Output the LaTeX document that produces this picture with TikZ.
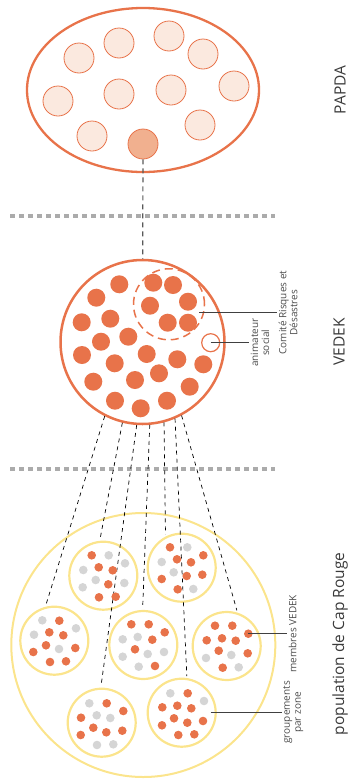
\documentclass[tikz,border=0pt]{standalone}
\usepackage{fontspec}
\setmainfont{Open Sans}
\usepackage{tikz}
\usepackage{xcolor}
\usetikzlibrary{calc}

\definecolor{orangeV}{HTML}{E8734A}
\definecolor{pecheP}{HTML}{FBE9DF}
\definecolor{pecheF}{HTML}{F1B08F}
\definecolor{jauneZ}{HTML}{FBE48C}
\definecolor{grisP}{HTML}{D5D5D5}
\definecolor{grisS}{HTML}{ABABAB}
\definecolor{texte}{HTML}{3A3A3A}

\begin{document}
\begin{tikzpicture}[x=1pt, y=-1pt,
  separateur/.style={draw=grisS, line width=4pt, dash pattern=on 5pt off 4pt},
  liaison/.style={draw=black!65, line width=1.2pt, dash pattern=on 5pt off 4pt},
  pointille/.style={draw=black, line width=0.7pt, dash pattern=on 4pt off 4pt},
  zone/.style={circle, draw=jauneZ, line width=2.2pt, minimum size=68pt, inner sep=0pt, outer sep=3pt},
  renvoi/.style={draw=black!75, line width=0.7pt},
  petit/.style={text=black!70, font=\fontsize{10}{11}\selectfont, align=center, inner sep=1.5pt, rotate=90, anchor=north},
  grand/.style={text=texte, font=\fontsize{15.5}{18}\selectfont, rotate=90}]
\useasboundingbox (0,0) rectangle (350,782);

% PAPDA
\draw[orangeV, line width=2.3pt] (143,90) ellipse (116 and 82);
\foreach \x/\y in {79/58, 119/43, 169/36, 203/54, 234/86, 171/90,
                   119/94, 58/101, 92/136, 200/125}
  \draw[orangeV, fill=pecheP, line width=0.8pt] (\x,\y) circle (15);
\node[circle, draw=orangeV, fill=pecheF, line width=0.8pt, minimum size=30pt, inner sep=0pt] (delegue) at (143,144) {};
\node[grand] (lpapda) at (340,90) {PAPDA};

\draw[separateur] (10,216) -- (275,216);

% VEDEK
\node[circle, draw=orangeV, line width=2.5pt, minimum size=164pt, inner sep=0pt] (vedek) at (142.5,342) {};
\draw[liaison] (delegue) -- (vedek);
\foreach \x/\y in {119.3/284.3, 153.3/282.7, 173/285, 96.3/297.7, 150/305.7,
                   188/301.7, 110.3/318.7, 81.7/322.3, 167.7/322.7, 188/322.7,
                   128.3/336.7, 101/341.7, 82/355, 146.7/354, 114.7/363.3,
                   177.3/359.3, 203.3/364.3, 159/373.3, 135/380, 93.3/381.7,
                   189.7/386.7, 115/400.7, 140.7/408.3, 167/400.7}
  \fill[orangeV] (\x,\y) circle (9);
\node[circle, draw=orangeV, dash pattern=on 8pt off 5pt, line width=1.5pt, minimum size=71pt, inner sep=0pt] (comite) at (169,304.3) {};
\node[circle, draw=orangeV, line width=1.2pt, minimum size=18pt, inner sep=0pt] (anim) at (210.7,342.7) {};

\coordinate (c1) at (199.3,312.7);
\node[petit] (lcomite) at (277,312.7) {Comité Risques et\\Désastres};
\draw[renvoi] (c1) -- (lcomite);
\node[petit] (lanim) at (249,342.7) {animateur\\social};
\draw[renvoi] (anim.center) -- (lanim);
\node[grand] (lvedek) at (339,342) {VEDEK};

\draw[separateur] (10,469) -- (275,469);

% population
\draw[jauneZ, line width=2pt] (143.3,645) circle (132);
\node[zone] (z1) at (103.3,575.7) {};
\node[zone] (z2) at (181.7,567.7) {};
\node[zone] (z3) at (54.3,640.7) {};
\node[zone] (z4) at (143.3,645) {};
\node[zone] (z5) at (226.7,646) {};
\node[zone] (z6) at (101.7,722.7) {};
\node[zone] (z7) at (181.7,712.7) {};

\draw[pointille] (vedek.243.7) -- (z3.103);
\draw[pointille] (vedek.256.5) -- (z1.95);
\draw[pointille] (vedek.266.5) -- (z6.91);
\draw[pointille] (vedek.275.5) -- (z4.91);
\draw[pointille] (vedek.285.4) -- (z2.116);
\draw[pointille] (vedek.293) -- (z7.82);
\draw[pointille] (vedek.298.6) -- (z5.74);

% membres VEDEK
\foreach \x/\y in {91.7/555.3, 98.7/567.3, 112.7/570.3, 108.3/584.3, 99/597.3, 115.7/596.7,
                   170/547.3, 177/559.3, 191/562.3, 203.3/555.3, 186.7/576, 202.3/574.7, 161.7/579, 177.7/589.3,
                   59.3/620.7, 49.3/632.3, 63.3/635.3, 46/645.3, 75.3/648, 33.3/652, 50/662, 66/661.3,
                   131.3/624.3, 148.7/624.3, 164.7/632.3, 152.3/639.7, 135/649.3, 155/666,
                   215/625.7, 232.3/625.7, 248.3/633.7, 206.7/640.3, 222/638.3, 235.7/640.7, 218.7/650.7, 247.7/653.3, 222.7/667.7,
                   106.7/703.3, 123.3/711, 81/717.7, 93.3/727.7, 106.3/732.3, 122.3/730.7, 80.7/735,
                   187.7/693.3, 162.3/707.3, 177.3/705.7, 191.3/708.3, 174/718.3, 187.3/722.7, 203/721, 162/725.3, 178.3/735, 194.3/734.3}
  \fill[orangeV] (\x,\y) circle (4.3);
% autres habitants
\foreach \x/\y in {108.7/555.3, 125/563.3, 83.3/570, 95.7/580, 82.7/587.3, 124.3/583,
                   187.3/547.3, 161.7/562, 173.7/572.3, 193.3/589,
                   42.3/620.3, 76/628.3, 34/634.7, 59/649,
                   122.7/639.3, 137.7/637, 122.7/656.7, 147.7/654, 164/652, 138.7/666.7,
                   206/658, 231.3/655, 238.7/667.3,
                   89.3/703.3, 96.7/715.3, 110.3/718, 97/745, 113.3/744.3,
                   170.3/693.3, 204/701}
  \fill[grisP] (\x,\y) circle (4.3);

\coordinate (m1) at (248.3,633.7);
\node[petit] (lmembres) at (287,633.7) {membres VEDEK};
\draw[renvoi] (m1) -- (lmembres);
\coordinate (g1) at (210.7,712.3);
\node[petit] (lgroupes) at (281.5,712.3) {groupements\\par zone};
\draw[renvoi] (g1) -- (lgroupes);
\node[grand] (lpop) at (340,644) {population de Cap Rouge};
\end{tikzpicture}
\end{document}
